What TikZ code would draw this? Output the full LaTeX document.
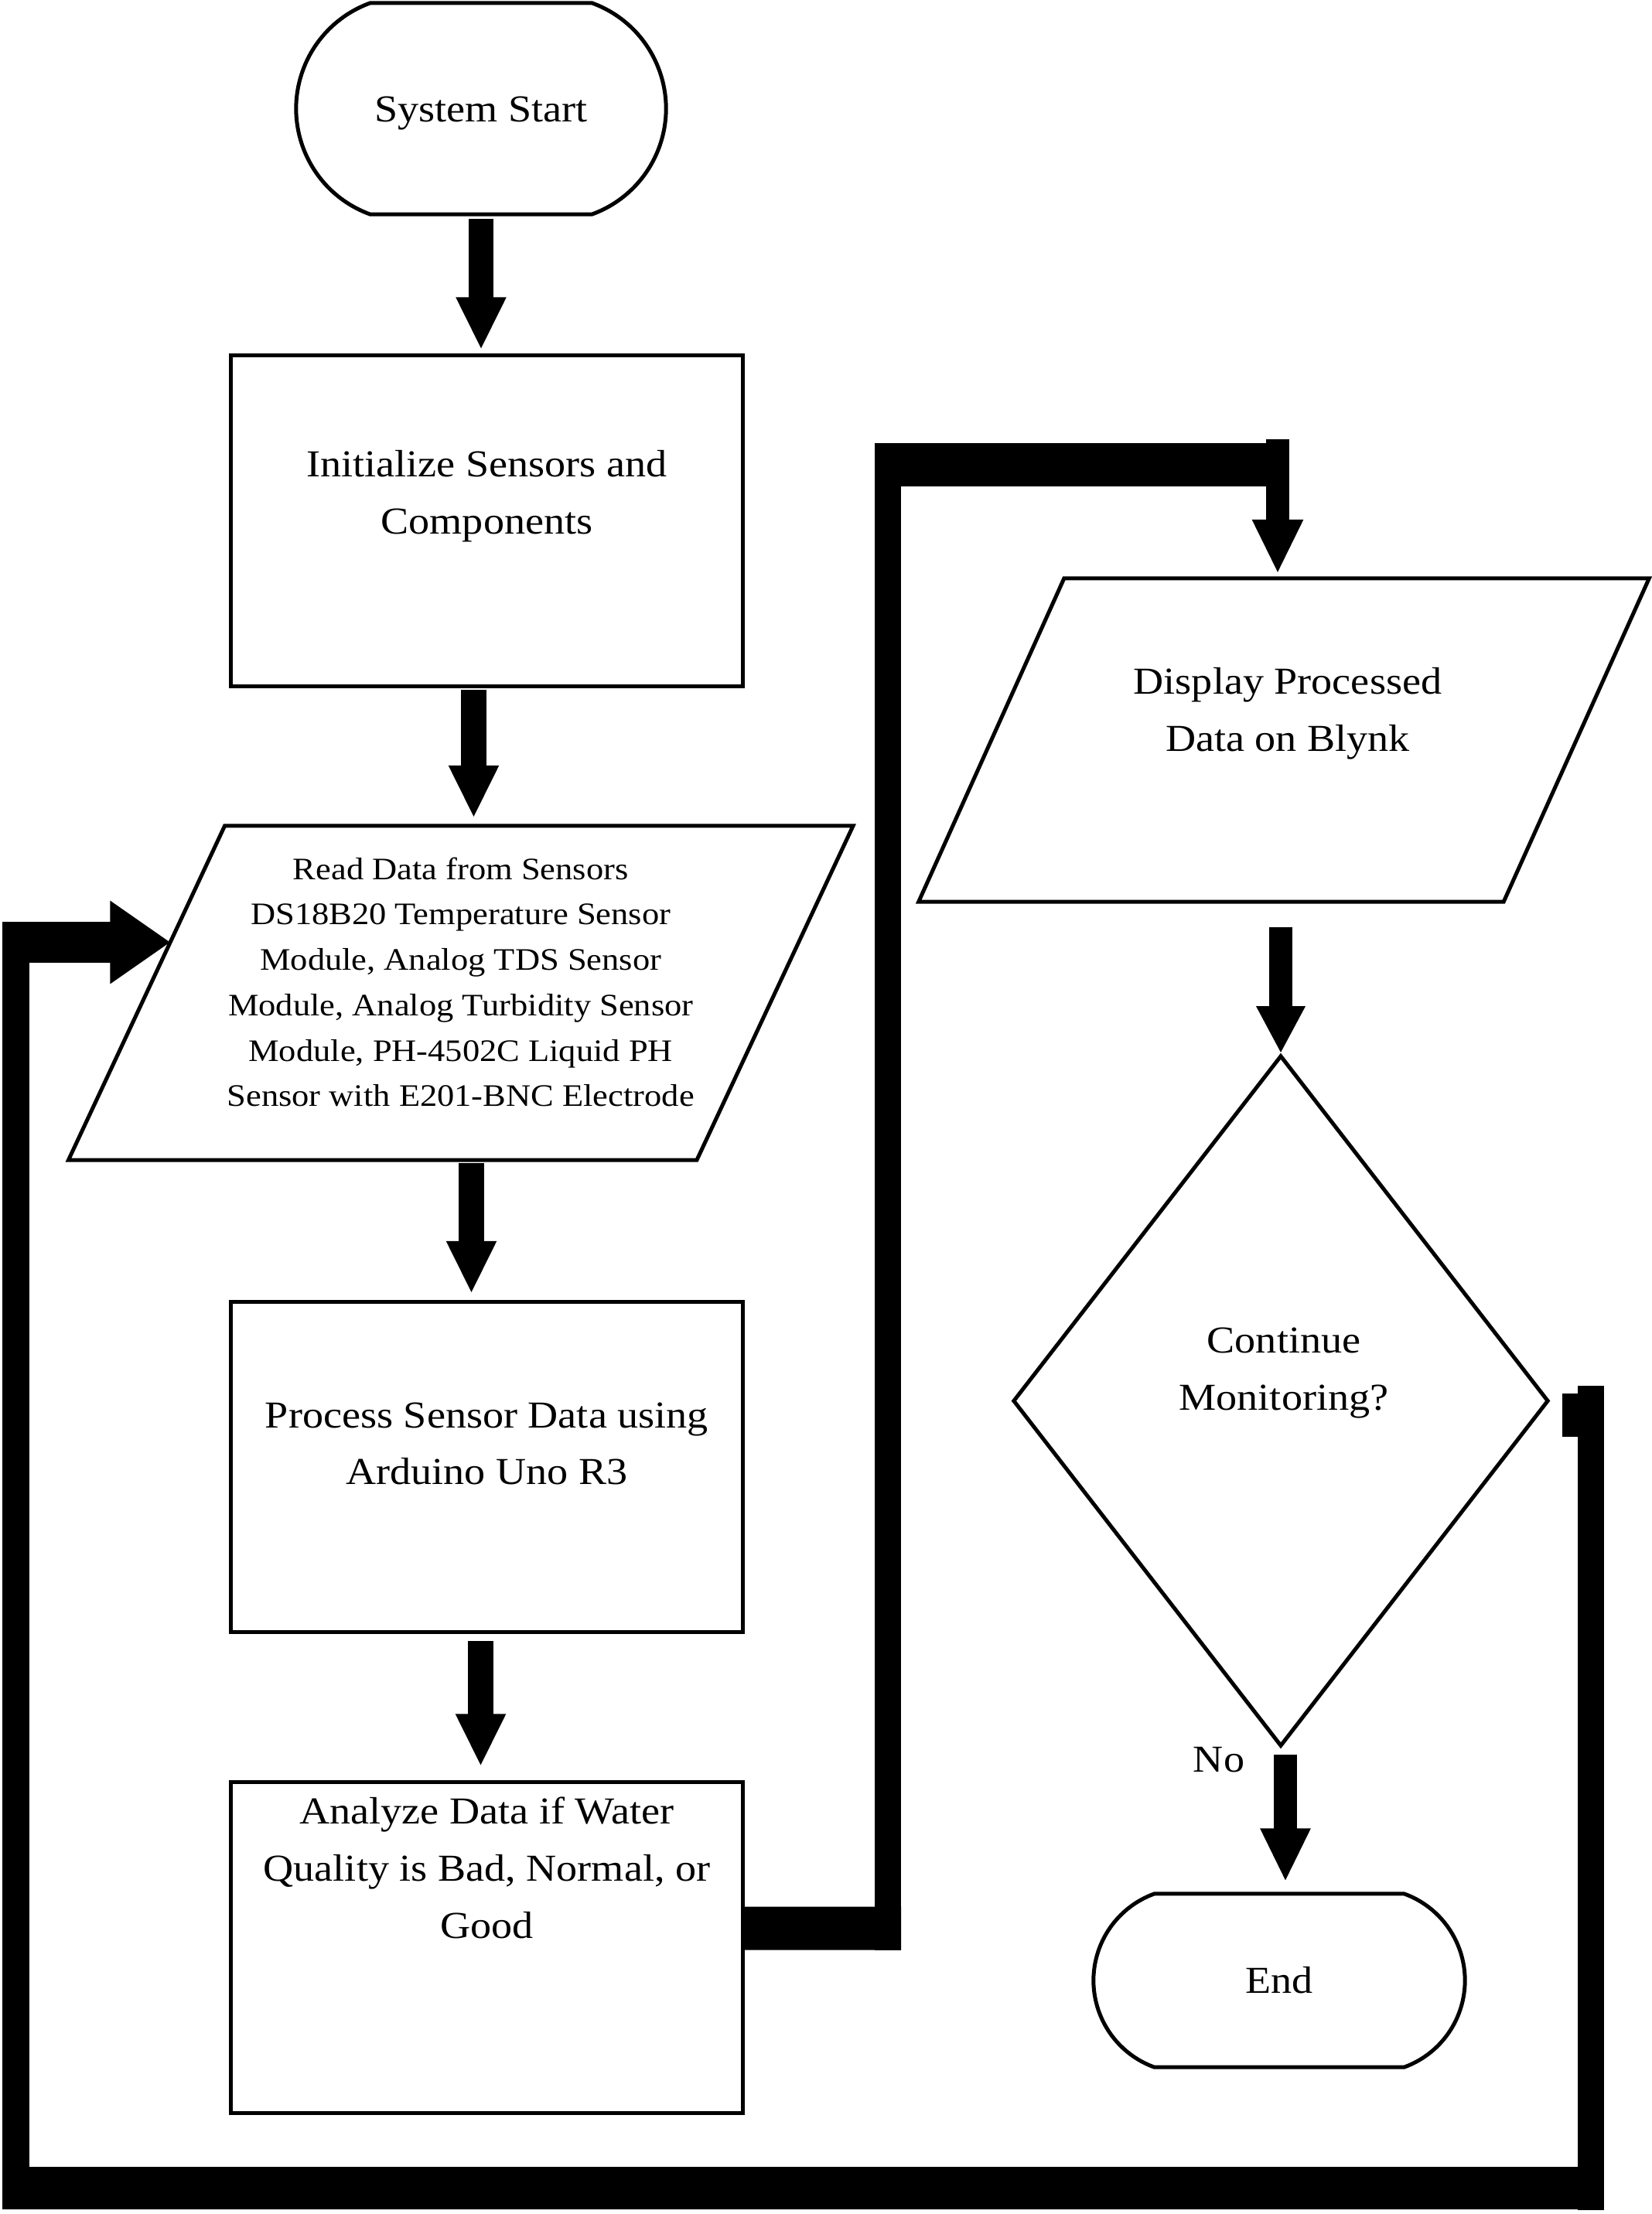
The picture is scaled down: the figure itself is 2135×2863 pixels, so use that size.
\documentclass[tikz,border=0pt]{standalone}
\usepackage{fontspec}
\setmainfont{Liberation Serif}[FakeStretch=1.1]
\usetikzlibrary{shapes.geometric,shapes.misc,arrows.meta,calc}

\begin{document}
\begin{tikzpicture}[x=0.01cm, y=-0.01cm,
  every node/.style={font=\fontsize{14}{21}\selectfont, align=center},
  box/.style={draw, line width=0.05cm, inner sep=0, minimum width=6.61cm, minimum height=4.27cm},
  io/.style={inner sep=0, outer sep=0},
  slant/.style={line width=0.05cm, line join=miter},
  term/.style={draw, line width=0.05cm, inner sep=0, rounded rectangle, rounded rectangle arc length=140},
  dec/.style={draw, line width=0.05cm, inner sep=0, diamond},
  flow/.style={line width=0.32cm, -{Triangle[length=0.68cm, width=0.6cm]}},
  hbar/.style={line width=0.56cm},
  vbar/.style={line width=0.34cm}]
\useasboundingbox (0,0) rectangle (2135,2863);

\node[term, minimum width=4.78cm, minimum height=2.73cm, label={[yshift=-0.06cm]center:System Start}] (start) at (622,140.5) {};
\node[box, label={[yshift=0.32cm]center:{Initialize Sensors and\\Components}}] (init) at (629.5,673.5) {};
\node[io, minimum width=8.12cm, minimum height=4.32cm, label={[yshift=0.14cm, font=\fontsize{11.5}{16.7}\selectfont]center:{Read Data from Sensors\\DS18B20 Temperature Sensor\\Module, Analog TDS Sensor\\Module, Analog Turbidity Sensor\\Module, PH-4502C Liquid PH\\Sensor with E201-BNC Electrode}}] (read) at (595.75,1284) {};
\draw[slant] ([xshift=1.01cm]read.north west) -- ([xshift=1.01cm]read.north east) -- ([xshift=-1.01cm]read.south east) -- ([xshift=-1.01cm]read.south west) -- cycle;
\node[box, label={[yshift=0.30cm]center:{Process Sensor Data using\\Arduino Uno R3}}] (proc) at (629.5,1897) {};
\node[box, label={[yshift=1.03cm]center:{Analyze Data if Water\\Quality is Bad, Normal, or\\Good}}] (anal) at (629.5,2518.5) {};

\node[io, minimum width=7.56cm, minimum height=4.18cm, label={[yshift=0.34cm, xshift=0.05cm]center:{Display Processed\\Data on Blynk}}] (disp) at (1660,957) {};
\draw[slant] ([xshift=0.94cm]disp.north west) -- ([xshift=0.94cm]disp.north east) -- ([xshift=-0.94cm]disp.south east) -- ([xshift=-0.94cm]disp.south west) -- cycle;
\node[dec, minimum width=6.92cm, minimum height=8.93cm, label={[yshift=0.36cm, xshift=0.04cm]center:{Continue\\Monitoring?}}] (cont) at (1656,1811.5) {};
\node[term, minimum width=4.80cm, minimum height=2.24cm, label=center:End] (stop) at (1654,2561) {};
\node (no) at (1576,2276) {No};

\draw[flow, shorten <=0.03cm, shorten >=0.05cm] (start.south) -- (start.south |- init.north);
\draw[flow, shorten <=0.02cm, shorten >=0.1cm] ($(init.south)+(-17,0)$) -- ($(init.south |- read.north)+(-17,0)$);
\draw[flow, shorten <=0.04cm, shorten >=0.08cm] ($(read.south -| init.south)+(-20,0)$) -- ($(proc.north)+(-20,0)$);
\draw[flow, shorten <=0.09cm, shorten >=0.18cm] ($(proc.south)+(-8,0)$) -- ($(anal.north)+(-8,0)$);
\draw[flow, line width=0.30cm, -{Triangle[length=0.61cm, width=0.59cm]}, shorten <=0.33cm] (disp.south -| cont.north) -- (cont.north);
\draw[flow, line width=0.30cm, -{Triangle[length=0.69cm, width=0.6cm]}, shorten <=0.08cm, shorten >=0.13cm] ($(cont.south)+(6,0)$) -- ($(stop.north)+(8,0)$);

\coordinate (ra) at (1148,2493.5);
\coordinate (rb) at (1148,601);
\coordinate (rc) at (1652,601);
\draw[hbar] ([yshift=0.25cm]anal.east) -- ([xshift=0.17cm]ra);
\draw[vbar] ([yshift=-0.285cm]ra) -- ([yshift=0.28cm]rb);
\draw[hbar] ([xshift=-0.17cm]rb) -- ([xshift=0.15cm]rc);
\draw[flow, line width=0.30cm, -{Triangle[length=0.7cm, width=0.61cm]}, shorten >=0.06cm] ([yshift=0.33cm]rc) -- (rc |- disp.north);

\coordinate (rd) at (2057,1830);
\coordinate (re) at (2057,2829.5);
\coordinate (rf) at (20.5,2829.5);
\coordinate (rg) at (20.5,1218.5);
\draw[hbar] ($(cont.east |- rd)+(15,0)$) -- (rd);
\draw[vbar] ([yshift=0.38cm]rd) -- ([yshift=-0.285cm]re);
\draw[hbar, line width=0.55cm] ([xshift=0.17cm]re) -- ([xshift=-0.175cm]rf);
\draw[vbar, line width=0.35cm] ([yshift=-0.275cm]rf) -- ([yshift=0.265cm]rg);
\draw[hbar, line width=0.53cm, -{Triangle[length=0.78cm, width=1.02cm]}] ([xshift=-0.175cm]rg) -- ($(read.west)+(31,-65.5)$);
\end{tikzpicture}
\end{document}
